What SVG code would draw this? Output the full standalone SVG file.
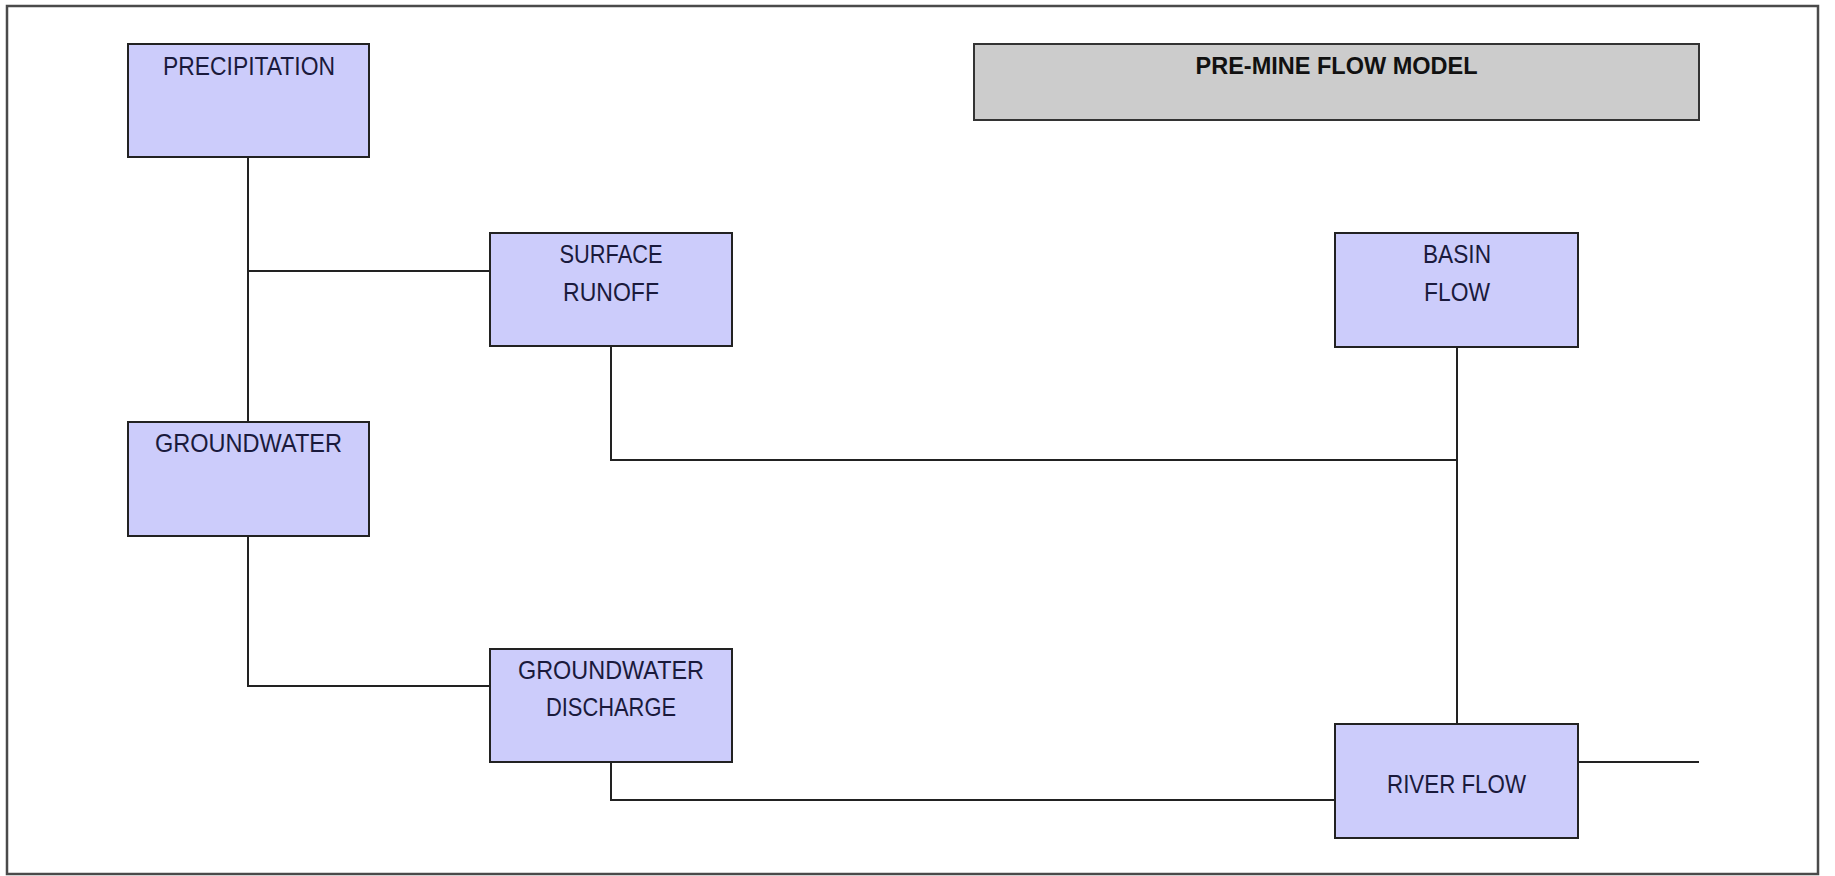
<svg xmlns="http://www.w3.org/2000/svg" width="1835" height="876" viewBox="0 0 1835 876">
  <style>
    .frame { fill: #ffffff; stroke: #4a4a4a; stroke-width: 2.5; }
    .box { fill: #ccccfb; stroke: #222222; stroke-width: 2; }
    .title-box { fill: #cccccc; stroke: #333333; stroke-width: 2; }
    .label { font-family: "Liberation Sans", Arial, sans-serif; font-size: 25px; fill: #1a1a3c; text-anchor: middle; }
    .title { font-family: "Liberation Sans", Arial, sans-serif; font-size: 24px; font-weight: bold; fill: #111111; text-anchor: middle; }
    .wire { fill: none; stroke: #222222; stroke-width: 2; }
  </style>

  <!-- page frame -->
  <rect class="frame" x="7" y="6" width="1811" height="868"/>

  <!-- connectors -->
  <g id="connectors">
    <path class="wire" d="M248 157 V422"/>
    <path class="wire" d="M248 271 H490"/>
    <path class="wire" d="M611 346 V460 H1457"/>
    <path class="wire" d="M1457 347 V724"/>
    <path class="wire" d="M248 536 V686 H490"/>
    <path class="wire" d="M611 762 V800 H1335"/>
    <path class="wire" d="M1578 762 H1699"/>
  </g>

  <!-- title -->
  <g id="title">
    <rect class="title-box" x="974" y="44" width="725" height="76"/>
    <text class="title" x="1336.5" y="74" textLength="282" lengthAdjust="spacingAndGlyphs">PRE-MINE FLOW MODEL</text>
  </g>

  <g id="precipitation">
    <rect class="box" x="128" y="44" width="241" height="113"/>
    <text class="label" x="249" y="75" textLength="172" lengthAdjust="spacingAndGlyphs">PRECIPITATION</text>
  </g>

  <g id="surface-runoff">
    <rect class="box" x="490" y="233" width="242" height="113"/>
    <text class="label" x="611" y="263" textLength="103" lengthAdjust="spacingAndGlyphs">SURFACE</text>
    <text class="label" x="611" y="301" textLength="96" lengthAdjust="spacingAndGlyphs">RUNOFF</text>
  </g>

  <g id="groundwater">
    <rect class="box" x="128" y="422" width="241" height="114"/>
    <text class="label" x="248.5" y="452" textLength="187" lengthAdjust="spacingAndGlyphs">GROUNDWATER</text>
  </g>

  <g id="groundwater-discharge">
    <rect class="box" x="490" y="649" width="242" height="113"/>
    <text class="label" x="611" y="679" textLength="186" lengthAdjust="spacingAndGlyphs">GROUNDWATER</text>
    <text class="label" x="611" y="716" textLength="130" lengthAdjust="spacingAndGlyphs">DISCHARGE</text>
  </g>

  <g id="basin-flow">
    <rect class="box" x="1335" y="233" width="243" height="114"/>
    <text class="label" x="1457" y="263" textLength="68" lengthAdjust="spacingAndGlyphs">BASIN</text>
    <text class="label" x="1457" y="301" textLength="66" lengthAdjust="spacingAndGlyphs">FLOW</text>
  </g>

  <g id="river-flow">
    <rect class="box" x="1335" y="724" width="243" height="114"/>
    <text class="label" x="1456.5" y="793" textLength="139" lengthAdjust="spacingAndGlyphs">RIVER FLOW</text>
  </g>
</svg>
